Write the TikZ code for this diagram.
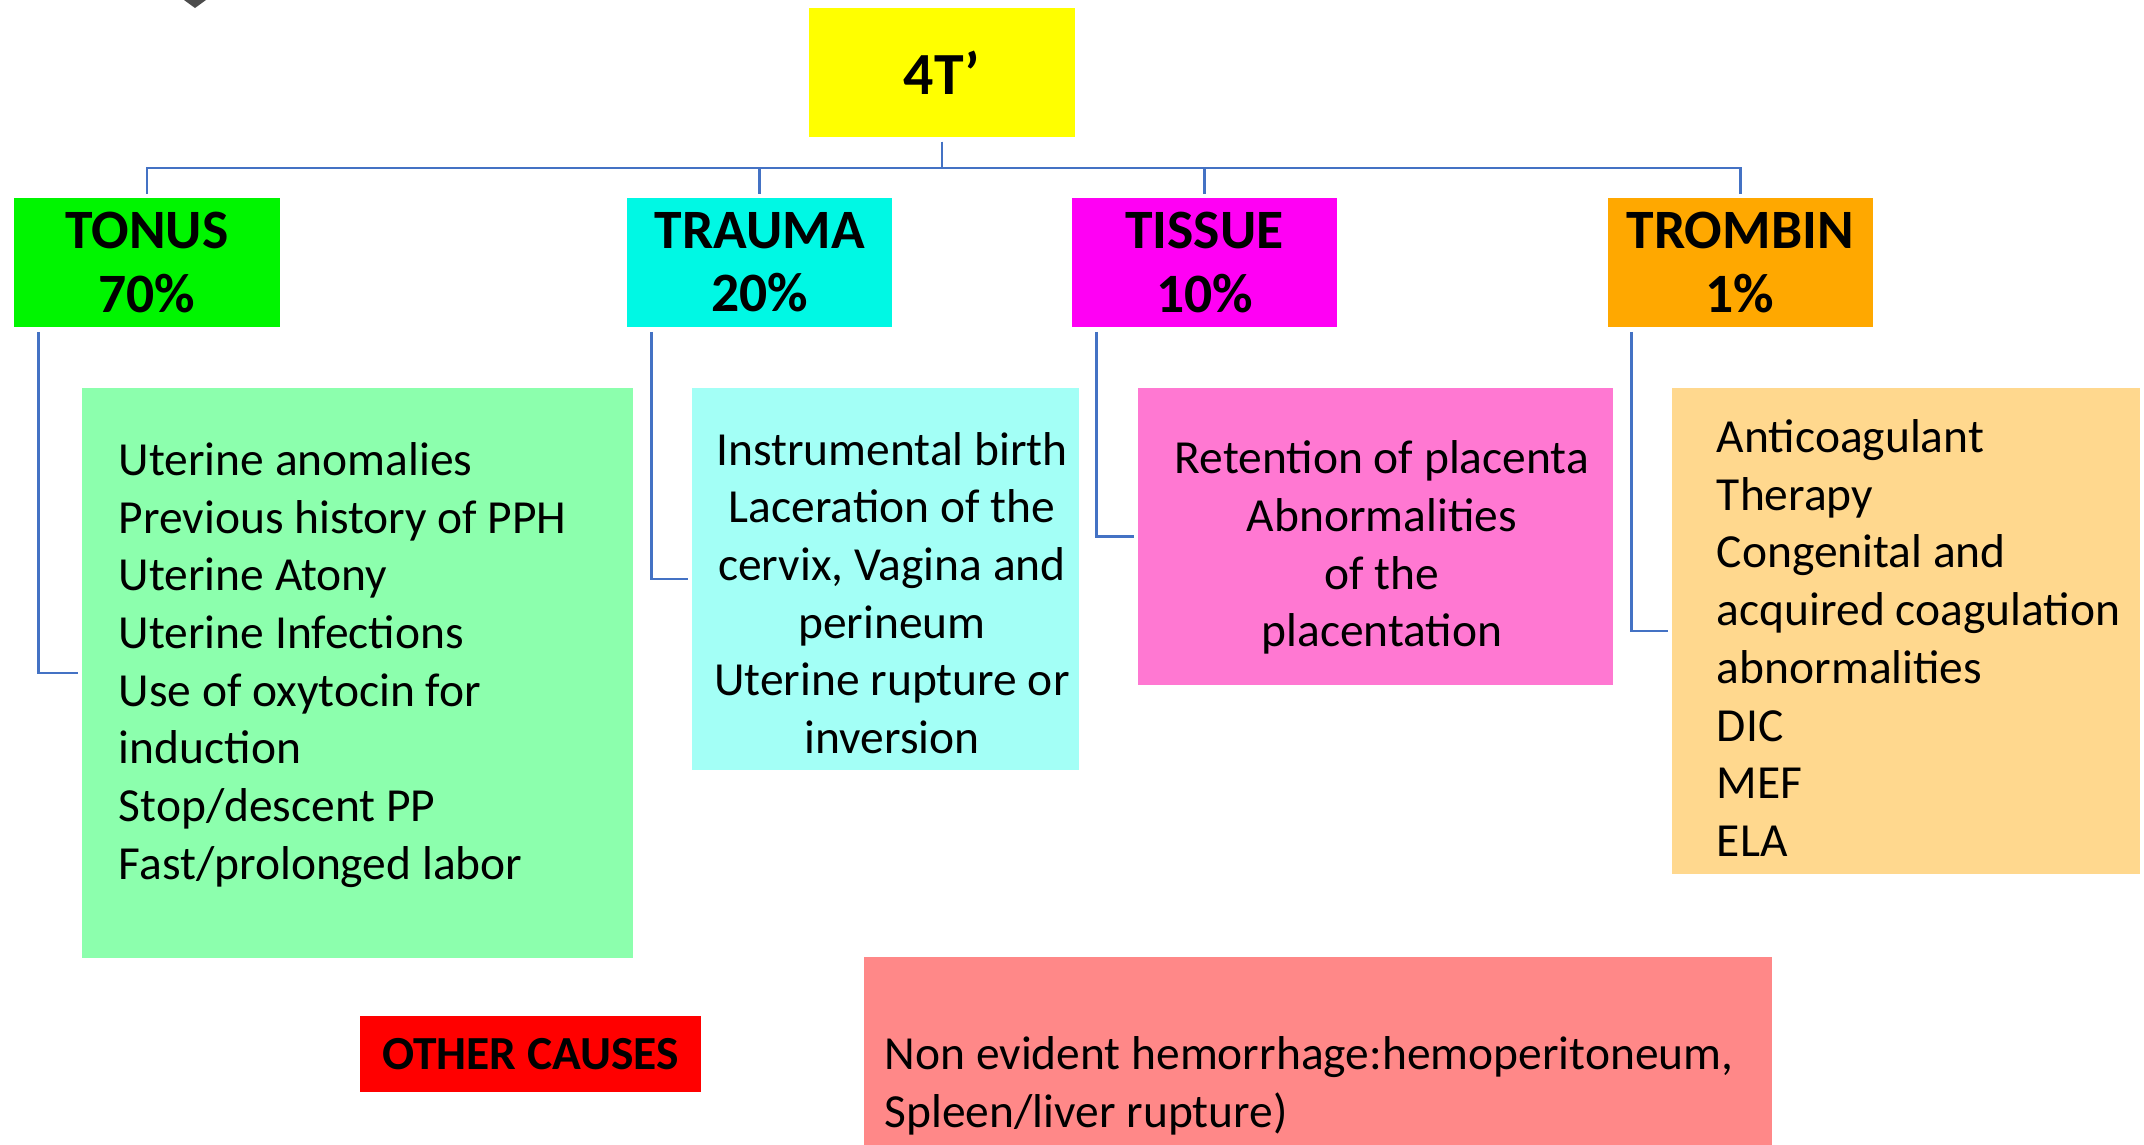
\documentclass[tikz,border=0pt]{standalone}
\usepackage{fontspec}
\setmainfont{Carlito}
\usetikzlibrary{positioning}
\definecolor{ttyellow}{HTML}{FFFF00}
\definecolor{ttgreen}{HTML}{00F500}
\definecolor{ttcyan}{HTML}{00F8E4}
\definecolor{ttmagenta}{HTML}{FF00F4}
\definecolor{ttorange}{HTML}{FFA800}
\definecolor{ttgreenlt}{HTML}{8CFFAD}
\definecolor{ttcyanlt}{HTML}{A3FFF6}
\definecolor{ttpink}{HTML}{FF78D2}
\definecolor{ttorangelt}{HTML}{FFD88E}
\definecolor{ttred}{HTML}{FF0000}
\definecolor{ttsalmon}{HTML}{FF8888}
\definecolor{ttline}{HTML}{4472C4}
% text block of width #1, with #2 added above and #3 below
\newcommand{\ttlist}[4]{\raisebox{0pt}[\dimexpr\height+#2\relax][\dimexpr\depth+#3\relax]{\parbox{#1}{#4}}}

\begin{document}
\begin{tikzpicture}[
    x=0.01cm, y=-0.01cm,
    head/.style={minimum width=2.65cm, minimum height=1.29cm, inner sep=0pt,
                 font=\fontsize{15.8}{18}\selectfont\bfseries, align=center},
    detail/.style={inner sep=0pt, font=\fontsize{13.5}{16.4}\selectfont},
    link/.style={draw=ttline, line width=0.8pt, shorten <=0.04cm, shorten >=0.03cm},
  ]
  \useasboundingbox (0,0) rectangle (2144,1144);
  \clip (0,0) rectangle (2144,1144);
  \fill[gray!60!black] (184,0) -- (206,0) -- (195,8) -- cycle;

  % top and the four T's
  \node[head, fill=ttyellow, minimum width=2.66cm, font=\fontsize{17}{20}\selectfont\bfseries] (top) at (942,72.5) {4T’};
  \node[head, fill=ttgreen] (tonus) at (147,262.5) {TONUS\\70\%};
  \node[head, fill=ttcyan, right=3.46cm of tonus] (trauma) {TRAUMA\\20\%};
  \node[head, fill=ttmagenta, right=1.78cm of trauma] (tissue) {TISSUE\\10\%};
  \node[head, fill=ttorange, right=2.69cm of tissue] (trombin) {TROMBIN\\1\%};

  % lists
  \node[detail, fill=ttgreenlt, minimum width=5.51cm, minimum height=5.70cm, inner xsep=0.37cm]
        (tonuslist) at (357.5,673)
        {\ttlist{4.77cm}{0cm}{0.16cm}{\raggedright Uterine anomalies\\Previous history of PPH\\
         Uterine Atony\\Uterine Infections\\Use of oxytocin for\\induction\\Stop/descent PP\\Fast/prolonged labor}};
  \node[detail, fill=ttcyanlt, minimum width=3.87cm, minimum height=3.82cm]
        (traumalist) at (885.5,579)
        {\hspace*{0.13cm}\ttlist{3.74cm}{0.28cm}{0cm}{\centering Instrumental birth\\Laceration of the\\
         cervix, Vagina and\\perineum\\Uterine rupture or\\inversion}};
  \node[detail, fill=ttpink, minimum width=4.75cm, minimum height=2.97cm]
        (tissuelist) at (1375.5,536.5)
        {\hspace*{0.13cm}\ttlist{4.62cm}{0.22cm}{0cm}{\centering Retention of placenta\\Abnormalities\\
         of the\\placentation}};
  \node[detail, fill=ttorangelt, minimum width=4.68cm, minimum height=4.86cm, inner xsep=0.45cm]
        (trombinlist) at (1906,631)
        {\ttlist{3.78cm}{0.14cm}{0cm}{\raggedright Anticoagulant\\Therapy\\Congenital and\\
         \mbox{acquired coagulation}\\abnormalities\\DIC\\MEF\\ELA}};

  % other causes
  \node[head, fill=ttred, minimum width=3.41cm, minimum height=0.76cm,
        font=\fontsize{13.5}{16}\selectfont\bfseries] (other) at (530.5,1054) {OTHER CAUSES};
  \node[detail, fill=ttsalmon, minimum width=9.08cm, minimum height=2.5cm, inner xsep=0.21cm]
        (otherlist) at (1318,1082)
        {\ttlist{8.66cm}{0.08cm}{0cm}{\raggedright\mbox{Non evident hemorrhage:hemoperitoneum,}\\
         Spleen/liver rupture)}};

  \coordinate (bus) at (0,168);
  \foreach \cat in {tonus,trauma,tissue,trombin} {
    \draw[link] (top.south) -- (top.south |- bus) -| (\cat.north);
    \draw[link] ([xshift=0.25cm]\cat.south west) |- (\cat list.west);
  }
\end{tikzpicture}
\end{document}
